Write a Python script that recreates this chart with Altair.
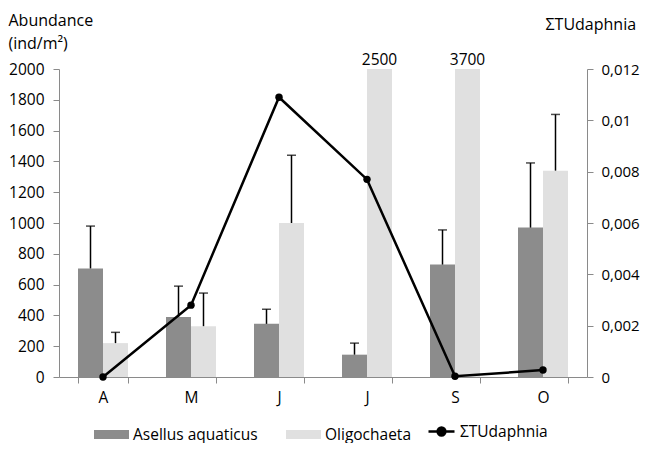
import altair as alt
import pandas as pd

# ---- data ----
keys = ["A", "M", "J1", "J2", "S", "O"]          # unique keys; labels show first letter
series = ["Asellus aquaticus", "Oligochaeta"]
asellus = [705, 390, 345, 145, 730, 970]
asellus_err = [275, 200, 95, 75, 225, 420]
oligo = [220, 330, 1000, 2500, 3700, 1340]
oligo_err = [70, 215, 440, None, None, 365]
tu_daphnia = [0.0, 0.0028, 0.0109, 0.0077, 0.00003, 0.00027]
tu_label = "ΣTUdaphnia"

CAP = 2000
rows = []
for k, a, ae, o, oe in zip(keys, asellus, asellus_err, oligo, oligo_err):
    rows.append({"key": k, "series": series[0], "value": a,
                 "display": min(a, CAP), "errtop": a + ae if ae is not None else None})
    rows.append({"key": k, "series": series[1], "value": o,
                 "display": min(o, CAP), "errtop": o + oe if oe is not None else None})
bar_df = pd.DataFrame(rows)
line_df = pd.DataFrame({"key": keys, "tu": tu_daphnia, "label": tu_label})

FONT = "Open Sans"
GRAY = "#8a8a8a"

x_enc = alt.X("key:N", sort=keys,
              scale=alt.Scale(paddingInner=0.432, paddingOuter=0.216),
              axis=alt.Axis(title=None, labelExpr="substring(datum.label, 0, 1)",
                            labelAngle=0, tickBand="extent", tickSize=6,
                            domainColor=GRAY, tickColor=GRAY, labelPadding=7,
                            labelFont=FONT, labelFontSize=15.5, labelColor="black"))
xoff = alt.XOffset("series:N", sort=series,
                   scale=alt.Scale(paddingInner=0, paddingOuter=0))

y_axis = alt.Axis(title=["Abundance", "(ind/m²)"], titleAngle=0, titleAlign="left",
                  titleBaseline="alphabetic", titleX=-51, titleY=-44,
                  titleFont=FONT, titleFontSize=16, titleFontWeight="normal",
                  titleLineHeight=23, titleColor="black", format="d",
                  values=list(range(0, 2001, 200)), grid=False, tickSize=6,
                  domainColor=GRAY, tickColor=GRAY, labelPadding=9,
                  labelFont=FONT, labelFontSize=15.5, labelColor="black")
y_scale = alt.Scale(domain=[0, CAP], nice=False)

base = alt.Chart(bar_df)

bars = base.mark_bar().encode(
    x=x_enc, xOffset=xoff,
    y=alt.Y("display:Q", scale=y_scale, axis=y_axis),
    color=alt.Color("series:N", sort=series,
                    scale=alt.Scale(domain=series, range=["#8c8c8c", "#e0e0e0"]),
                    legend=alt.Legend(title=None, orient="none", direction="horizontal",
                                      legendX=35, legendY=348,
                                      symbolType="M-1,-0.26 L1,-0.26 L1,0.26 L-1,0.26 Z",
                                      symbolSize=1225, symbolStrokeWidth=0,
                                      labelFont=FONT, labelFontSize=15.5,
                                      labelColor="black", labelOffset=4,
                                      columnPadding=28)),
)

err = base.transform_filter("isValid(datum.errtop)")
rules = err.mark_rule(color="black", strokeWidth=1.5).encode(
    x=x_enc, xOffset=xoff,
    y=alt.Y("display:Q", scale=y_scale, axis=y_axis),
    y2="errtop:Q",
)
caps = err.mark_tick(color="black", size=9, thickness=1.5).encode(
    x=x_enc, xOffset=xoff,
    y=alt.Y("errtop:Q", scale=y_scale, axis=y_axis),
)
over = base.transform_filter(f"datum.value > {CAP}").mark_text(
    baseline="bottom", dy=-1, font=FONT, fontSize=15.5, color="black"
).encode(
    x=x_enc, xOffset=xoff,
    y=alt.Y("display:Q", scale=y_scale, axis=y_axis),
    text="value:Q",
)

left = alt.layer(bars, rules, caps, over)

line = alt.Chart(line_df).mark_line(
    strokeWidth=2.5,
    point=alt.OverlayMarkDef(filled=True, size=55, color="black"),
).encode(
    x=x_enc,
    y=alt.Y("tu:Q", scale=alt.Scale(domain=[0, 0.012], nice=False),
            axis=alt.Axis(orient="right", title=tu_label, titleAngle=0,
                          titleAlign="left", titleBaseline="alphabetic",
                          titleX=-42, titleY=-40, titleFont=FONT, titleFontSize=16,
                          titleFontWeight="normal", titleColor="black",
                          values=[0, 0.002, 0.004, 0.006, 0.008, 0.01, 0.012],
                          labelExpr="datum.value == 0 ? '0' : replace(format(datum.value, '.3~f'), '.', ',')",
                          grid=False, tickSize=6, domainColor=GRAY, tickColor=GRAY,
                          labelPadding=8, labelFont=FONT, labelFontSize=15,
                          labelColor="black")),
    color=alt.Color("label:N",
                    scale=alt.Scale(domain=[tu_label], range=["black"]),
                    legend=alt.Legend(title=None, orient="none", direction="horizontal",
                                      legendX=368, legendY=348,
                                      symbolType="M-1,0 L1,0 M0.3,0 A0.3,0.3 0 1,1 -0.3,0 A0.3,0.3 0 1,1 0.3,0",
                                      symbolSize=676, symbolStrokeWidth=2.5,
                                      symbolFillColor="black", symbolStrokeColor="black",
                                      labelFont=FONT, labelFontSize=15.5,
                                      labelColor="black", labelOffset=4)),
)

chart = alt.layer(left, line).resolve_scale(
    y="independent", color="independent"
).properties(
    width=528, height=308,
    autosize=alt.AutoSizeParams(type="none"),
    padding={"left": 51, "top": 61, "right": 53, "bottom": 66},
).configure_view(stroke=None)

chart.save("out.html", embed_options={"renderer": "svg", "actions": False})
